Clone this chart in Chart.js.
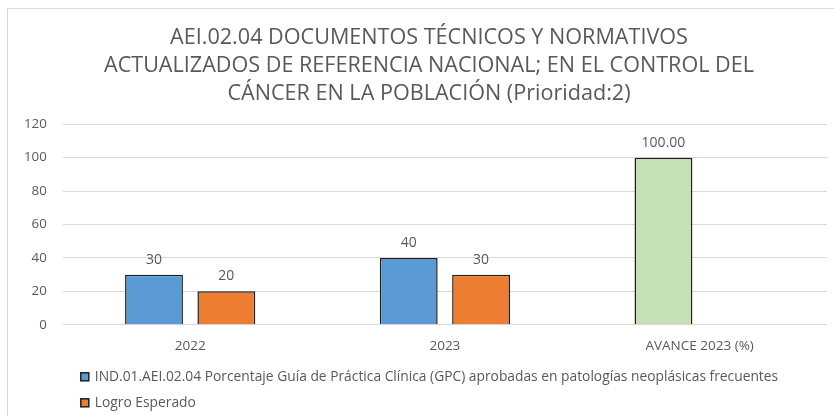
<!DOCTYPE html>
<html>
<head>
<meta charset="utf-8">
<title>AEI.02.04</title>
<script src="https://cdn.jsdelivr.net/npm/chart.js@4.4.1/dist/chart.umd.min.js"></script>
<style>
  html, body { margin: 0; padding: 0; background: #fff; overflow: hidden; width: 834px; height: 416px; }
  .frame { position: absolute; left: 7px; top: 8px; width: 842px; height: 420px; border: 1px solid #d9d9d9; background: #fff; }
</style>
</head>
<body>
<div class="frame"><canvas id="myChart" width="842" height="420"></canvas></div>
<script>
// Chart data
const categories = ["2022", "2023", "AVANCE 2023 (%)"];
const indicadorValues = [30, 40, 100];
const logroValues = [20, 30, null];
const labelDecimals = [0, 0, 2];
const yMin = 0, yMax = 120, yStep = 20;
const chartTitle = [
  "AEI.02.04 DOCUMENTOS TÉCNICOS Y NORMATIVOS",
  "ACTUALIZADOS DE REFERENCIA NACIONAL; EN EL CONTROL DEL",
  "CÁNCER EN LA POBLACIÓN (Prioridad:2)"
];
const seriesNames = [
  "IND.01.AEI.02.04 Porcentaje Guía de Práctica Clínica (GPC) aprobadas en patologías neoplásicas frecuentes",
  "Logro Esperado"
];

const textColor = "#595959";
const fontFamily = "'Open Sans', 'Noto Sans', sans-serif";

// Values drawn above each bar
const barLabels = {
  id: "barLabels",
  afterDatasetsDraw(chart) {
    const ctx = chart.ctx;
    ctx.save();
    ctx.font = "14px " + fontFamily;
    ctx.fillStyle = textColor;
    ctx.textAlign = "center";
    ctx.textBaseline = "middle";
    chart.data.datasets.forEach((ds, i) => {
      chart.getDatasetMeta(i).data.forEach((bar, j) => {
        const v = ds.data[j];
        if (v == null) return;
        ctx.fillText(v.toFixed(labelDecimals[j]), bar.x, bar.y - 15);
      });
    });
    ctx.restore();
  }
};

// Legend stacked one entry per line under the x axis
const stackedLegend = {
  id: "stackedLegend",
  afterDraw(chart) {
    const ctx = chart.ctx;
    const x0 = chart.chartArea.left + 18;
    let y = chart.chartArea.bottom + 52;
    ctx.save();
    ctx.font = "13.8px " + fontFamily;
    ctx.textBaseline = "middle";
    ctx.textAlign = "left";
    chart.data.datasets.forEach((ds) => {
      const fill = Array.isArray(ds.backgroundColor) ? ds.backgroundColor[0] : ds.backgroundColor;
      ctx.fillStyle = fill;
      ctx.fillRect(x0, y - 4, 8, 8);
      ctx.lineWidth = 1.5;
      ctx.strokeStyle = ds.borderColor;
      ctx.strokeRect(x0, y - 4, 8, 8);
      ctx.fillStyle = textColor;
      ctx.fillText(ds.label, x0 + 14, y);
      y += 26;
    });
    ctx.restore();
  }
};

var chartdata = document.getElementById("myChart");
var myChart = new Chart(chartdata, {
  type: "bar",
  data: {
    labels: categories,
    datasets: [
      {
        label: seriesNames[0],
        data: indicadorValues,
        backgroundColor: ["#5b9bd5", "#5b9bd5", "#c5e0b4"],
        borderColor: "#1f1f1f",
        borderWidth: 1.5,
        borderSkipped: "bottom",
        categoryPercentage: 0.568,
        barPercentage: 0.8,
      },
      {
        label: seriesNames[1],
        data: logroValues,
        backgroundColor: "#ed7d31",
        borderColor: "#1f1f1f",
        borderWidth: 1.5,
        borderSkipped: "bottom",
        categoryPercentage: 0.568,
        barPercentage: 0.8,
      },
    ],
  },
  options: {
    responsive: false,
    animation: false,
    layout: { padding: { left: 0, right: 0, bottom: 70 } },
    scales: {
      x: {
        grid: { display: false },
        border: { display: false },
        ticks: { color: textColor, font: { family: fontFamily, size: 13.5 }, padding: 5 },
      },
      y: {
        min: yMin,
        max: yMax,
        ticks: { stepSize: yStep, color: textColor, font: { family: fontFamily, size: 13.3 }, padding: 16 },
        grid: { color: "#d9d9d9", lineWidth: 1, drawTicks: false },
        border: { display: false },
      },
      // empty right margin so the title centres on the whole frame
      yRight: {
        position: "right",
        grid: { display: false },
        border: { display: false },
        ticks: { display: false },
        afterFit: (scale) => { scale.width = 23; },
      },
    },
    plugins: {
      title: {
        display: true,
        text: chartTitle,
        color: textColor,
        font: { family: fontFamily, size: 21.6, weight: "normal", lineHeight: 1.3 },
        padding: { top: 15, bottom: 16 },
      },
      legend: { display: false },
      tooltip: { enabled: false },
    },
  },
  plugins: [barLabels, stackedLegend],
});
</script>
</body>
</html>
